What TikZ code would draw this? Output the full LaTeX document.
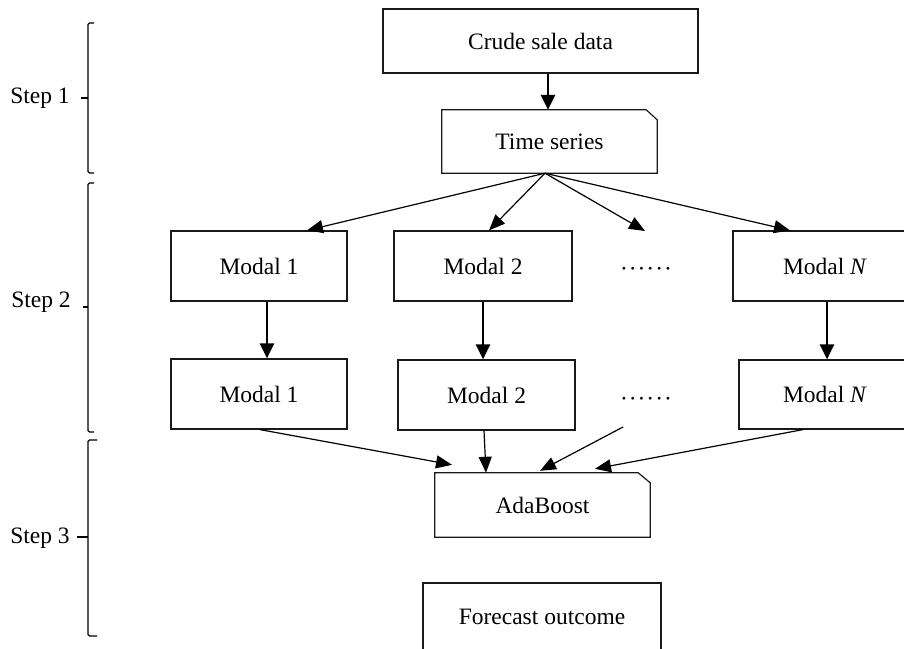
\documentclass[tikz,border=0pt]{standalone}
\usepackage{fontspec}
\setmainfont{Liberation Serif}
\usetikzlibrary{arrows.meta}
\begin{document}
\begin{tikzpicture}[x=1pt,y=-1pt,
  font=\fontsize{23.5}{28}\selectfont,
  boxline/.style={draw=black!90, line width=1.2pt},
  box/.style={boxline, inner sep=0pt},
  plain/.style={inner sep=0pt},
  thinarr/.style={-{Triangle[length=16pt,width=13pt]}, line width=1.2pt},
  thickarr/.style={-{Triangle[length=15pt,width=14pt]}, line width=2.6pt},
  brk/.style={line width=1.2pt, rounded corners=1.5pt},
  dotsrow/.style={plain}]
\useasboundingbox (0,0) rectangle (904,648);

% boxes
\node[box, minimum width=315pt, minimum height=64pt] (crude) at (540.5,41) {Crude sale data};
\node[plain, minimum width=215pt, minimum height=63pt] (ts) at (549.5,141.5) {Time series};
\draw[boxline] (ts.south west) -- (ts.north west) -- ([xshift=-11pt]ts.north east)
  -- ([yshift=-10pt]ts.north east) -- (ts.south east) -- cycle;

\node[box, minimum width=176pt, minimum height=70pt] (m1a) at (259,266) {Modal 1};
\node[box, minimum width=178pt, minimum height=70pt] (m2a) at (483,266) {Modal 2};
\node[dotsrow] (d1) at (646,272) {\makebox[52pt]{·\hfill·\hfill·\hfill·\hfill·\hfill·}};
\node[box, minimum width=184pt, minimum height=70pt] (mNa) at (825,266) {Modal \textit{N}};

\node[box, minimum width=176pt, minimum height=70pt] (m1b) at (259,394) {Modal 1};
\node[box, minimum width=177pt, minimum height=70pt] (m2b) at (486.5,395) {Modal 2};
\node[dotsrow] (d2) at (646,402) {\makebox[52pt]{·\hfill·\hfill·\hfill·\hfill·\hfill·}};
\node[box, minimum width=172pt, minimum height=69pt] (mNb) at (825,394.5) {Modal \textit{N}};

\node[plain, minimum width=215pt, minimum height=64pt] (ada) at (542.5,505) {AdaBoost};
\draw[boxline] (ada.south west) -- (ada.north west) -- ([xshift=-12pt]ada.north east)
  -- ([yshift=-10pt]ada.north east) -- (ada.south east) -- cycle;

\node[box, minimum width=238pt, minimum height=67pt] (fc) at (542,616.5) {Forecast outcome};

% step labels
\node[plain] (s1) at (40,98) {Step 1};
\node[plain] (s2) at (41,302) {Step 2};
\node[plain] (s3) at (40,538) {Step 3};

% brackets
\draw[brk] (94,23) -- (88,23) -- (88,173) -- (94,173);
\draw[line width=1.2pt] (81,98) -- (88,98);
\draw[brk] (94,183) -- (88,183) -- (88,432) -- (94,432);
\draw[line width=1.2pt] (83,307) -- (88,307);
\draw[brk] (97,440) -- (88,440) -- (88,636) -- (97,636);
\draw[line width=1.2pt] (77,537) -- (88,537);

% connectors
\draw[thickarr] ([xshift=7.5pt]crude.south) -- ([xshift=-1.5pt]ts.north);

\coordinate (apex) at ([xshift=-4.5pt]ts.south);
\coordinate (d1tip) at (645,231);
\draw[thinarr] (apex) -- ([xshift=48pt]m1a.north);
\draw[thinarr] (apex) -- ([xshift=6pt]m2a.north);
\draw[thinarr] (apex) -- (d1tip);
\draw[thinarr] (apex) -- ([xshift=-35pt]mNa.north);

\draw[thickarr] ([xshift=8pt]m1a.south) -- ([xshift=8pt]m1b.north);
\draw[thickarr] (m2a.south) -- ([xshift=-3.5pt]m2b.north);
\draw[thickarr] ([xshift=2pt]mNa.south) -- ([xshift=2pt]mNb.north);

\coordinate (free) at (623,427);
\draw[thinarr] ([xshift=1pt]m1b.south) -- ([xshift=-90.5pt,yshift=8pt]ada.north);
\draw[thinarr] ([xshift=-2.5pt]m2b.south) -- ([xshift=-56.5pt]ada.north);
\draw[thinarr] (free) -- ([xshift=-2.5pt,yshift=2pt]ada.north);
\draw[thinarr] ([xshift=-22pt]mNb.south) -- ([xshift=52.5pt,yshift=4pt]ada.north);
\end{tikzpicture}
\end{document}
